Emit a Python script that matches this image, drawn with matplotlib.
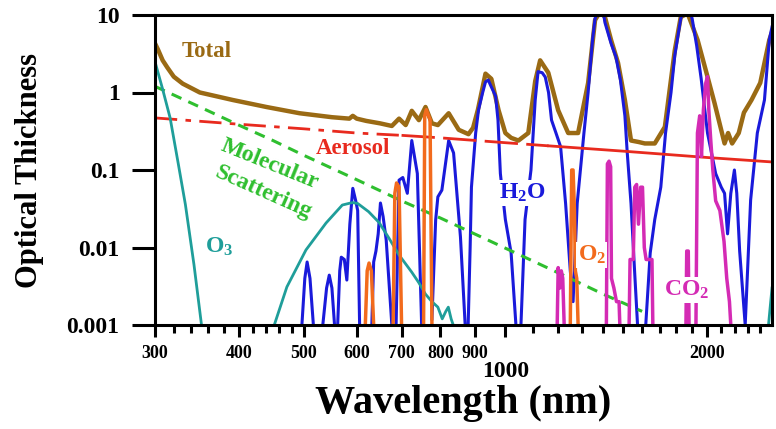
import numpy as np
import matplotlib.pyplot as plt

nan = np.nan

# optical thickness vs wavelength
total_wl = [300, 303, 308, 313, 320, 330, 350, 392, 440, 493, 551, 585, 592, 600, 620, 650,
            677, 694, 710, 725, 743, 760, 777, 793, 823, 852, 881, 895, 910, 934, 953, 977,
            1000, 1020, 1046, 1082, 1108, 1127, 1159, 1199, 1241, 1284, 1329, 1361, 1385, 1408,
            1438, 1473, 1508, 1540, 1580, 1615, 1671, 1730, 1790, 1827, 1871, 1936, 2003, 2052,
            2124, 2150, 2180, 2230, 2270, 2330, 2401, 2477, 2500]
total_tau = [4.3, 3.6, 2.6, 2.1, 1.6, 1.3, 1.0, 0.80, 0.65, 0.54, 0.48, 0.46, 0.50, 0.46, 0.43, 0.40,
             0.37, 0.46, 0.38, 0.58, 0.44, 0.65, 0.40, 0.38, 0.54, 0.33, 0.29, 0.35, 0.6, 1.75, 1.5, 0.59,
             0.30, 0.26, 0.24, 0.30, 1.4, 2.6, 1.8, 0.59, 0.30, 0.30, 1.33, 8.6, 11, 9.4,
             4.76, 2.4, 0.80, 0.24, 0.23, 0.22, 0.22, 0.36, 3.5, 9.4, 10.5, 4.76, 1.6, 0.73,
             0.22, 0.3, 0.22, 0.3, 0.55, 0.8, 1.33, 4.76, 6.0]

aer_wl = [300, 400, 500, 600, 700, 800, 1000, 1160, 1500, 2000, 2500]
aer_tau = [0.47, 0.39, 0.34, 0.30, 0.28, 0.26, 0.225, 0.205, 0.175, 0.145, 0.127]

mol_wl = [300, 350, 400, 450, 500, 600, 700, 800, 1000, 1200, 1400, 1600]
mol_tau = [1.2, 0.65, 0.38, 0.24, 0.155, 0.075, 0.040, 0.024, 0.0098, 0.0047, 0.0025, 0.0015]

o3_wl = [300, 308, 316, 325, 333, 343, 352, nan,
         452, 472, 504, 540, 571, 591, 602, 625, 648, 671, 694, 725, 743, 760, 777, 793, 805,
         815, 822, 830, 836, nan, 2470, 2500]
o3_tau = [2.5, 1.1, 0.47, 0.12, 0.036, 0.006, 0.001, nan,
          0.001, 0.0031, 0.0093, 0.0207, 0.0353, 0.038, 0.037, 0.029, 0.021, 0.013, 0.008, 0.0048,
          0.0035, 0.0025, 0.002, 0.0017, 0.0012, 0.0015, 0.0017, 0.0012, 0.001, nan, 0.001, 0.003]

h2o_wl = [497, 502, 506, 511, 517, nan,
          534, 541, 546, 551, 556, nan,
          562, 566, 569, 575, 580, 586, 592, 598, 602, 606, nan,
          632, 636, 641, 646, 651, 657, 664, 677, nan,
          687, 694, 703, 714, 725, 739, 750, nan,
          777, 787, 793, 804, 823, 837, 857, 871, nan,
          880, 886, 890, 903, 912, 925, 934, 943, 950, 967, 975, 983, 1000, 1020, 1037, nan,
          1055, 1070, 1092, 1108, 1119, 1135, 1147, 1160, 1172, 1190, 1209, 1230, 1250, 1262,
          1280, 1300, 1310, 1329, 1350, 1361, 1380, 1400, 1408, 1438, 1462, 1485, 1508, 1520,
          1540, 1559, 1575, nan,
          1620, 1645, 1671, 1706, 1734, 1767, 1790, 1827, 1850, 1880, 1900, 1930, 1960, 2003,
          2060, 2100, 2124, 2146, 2170, 2197, 2215, 2237, 2280, 2323, 2377, 2436, 2477, 2500]
h2o_tau = [0.001, 0.004, 0.0065, 0.004, 0.001, nan,
           0.001, 0.003, 0.0044, 0.003, 0.001, nan,
           0.001, 0.005, 0.0075, 0.007, 0.0038, 0.02, 0.058, 0.04, 0.03, 0.001, nan,
           0.001, 0.0065, 0.009, 0.015, 0.0375, 0.025, 0.0125, 0.001, nan,
           0.001, 0.074, 0.08, 0.05, 0.24, 0.09, 0.001, nan,
           0.0012, 0.0226, 0.045, 0.055, 0.24, 0.166, 0.0137, 0.001, nan,
           0.001, 0.01, 0.06, 0.3, 0.6, 1.0, 1.37, 1.45, 1.25, 0.9, 0.44, 0.09, 0.023, 0.0085, 0.001, nan,
           0.001, 0.023, 0.1, 0.8, 1.86, 1.8, 1.58, 1.0, 0.44, 0.3, 0.2, 0.037, 0.005, 0.002,
           0.037, 0.15, 0.3, 1.0, 5.0, 9.0, 12, 11, 8.0, 4.3, 2.9, 1.45, 0.5, 0.17,
           0.037, 0.005, 0.001, nan,
           0.001, 0.0085, 0.023, 0.06, 0.3, 1.0, 3.0, 9.0, 12, 12, 9.0, 4.0, 1.5, 0.3,
           0.09, 0.06, 0.05, 0.015, 0.05, 0.1, 0.05, 0.009, 0.001, 0.041, 0.3, 0.8, 4.8, 7.0]

o2_wl = [618, 622, 626, 631, 636, nan, 680, 684, 688, 694, 700, nan,
         755, 758, 762, 768, 772, 777, nan, 1250, 1256, 1262, 1268, 1272, 1278, 1284]
o2_tau = [0.001, 0.005, 0.0063, 0.005, 0.001, nan, 0.001, 0.05, 0.068, 0.06, 0.001, nan,
          0.001, 0.5, 0.6, 0.5, 0.45, 0.001, nan, 0.001, 0.1, 0.1, 0.03, 0.005, 0.004, 0.001]

co2_wl = [1195, 1199, 1206, 1212, 1218, 1224, nan,
          1415, 1420, 1428, 1436, 1440, 1452, 1465, 1478, 1482, nan,
          1530, 1535, 1552, 1560, 1570, 1580, 1592, 1602, 1612, 1622, 1640, 1655, 1660, nan,
          1860, 1865, 1875, 1880, nan,
          1925, 1935, 1950, 1962, 1975, 1990, 2003, 2012, 2025, 2040, 2060, 2090, 2120, 2140, 2160, 2170]
co2_tau = [0.001, 0.0055, 0.003, 0.005, 0.004, 0.001, nan,
           0.001, 0.12, 0.13, 0.11, 0.004, 0.003, 0.002, 0.002, 0.001, nan,
           0.001, 0.007, 0.007, 0.06, 0.065, 0.02, 0.06, 0.06, 0.01, 0.007, 0.007, 0.007, 0.001, nan,
           0.001, 0.009, 0.009, 0.001, nan,
           0.001, 0.3, 0.5, 0.15, 0.6, 1.3, 1.6, 0.6, 0.25, 0.1, 0.04, 0.03, 0.012, 0.004, 0.002, 0.001]

x_major = [300, 400, 500, 600, 700, 800, 900, 1000, 2000]
x_minor = [320, 340, 360, 380, 420, 440, 460, 480,
           1100, 1200, 1300, 1400, 1500, 1600, 1700, 1800, 1900, 2100, 2200, 2300, 2400]
y_major = [0.001, 0.01, 0.1, 1, 10]
y_labels = ['0.001', '0.01', '0.1', '1', '10']

plt.rcParams['font.family'] = 'Liberation Serif'
plt.rcParams['font.weight'] = 'bold'
plt.rcParams['mathtext.fontset'] = 'custom'
plt.rcParams['mathtext.rm'] = 'Liberation Serif:bold'
plt.rcParams['mathtext.it'] = 'Liberation Serif:bold'
plt.rcParams['mathtext.bf'] = 'Liberation Serif:bold'

fig = plt.figure(figsize=(7.76, 4.29), dpi=100)
ax = fig.add_axes([155 / 776, 1 - 325 / 429, 617 / 776, 310 / 429])

brown = '#9a6a14'
red = '#e82a1e'
green = '#2fbf2f'
teal = '#1f9e9a'
blue = '#1a1adb'
orange = '#f26b1d'
magenta = '#d42bb4'

ax.plot(total_wl, total_tau, color=brown, lw=3.2, zorder=2)
ax.plot(h2o_wl, h2o_tau, color=blue, lw=2.2, zorder=3)
ax.plot(aer_wl[:5], aer_tau[:5], color=red, lw=2.0, ls=(0, (8, 3, 2, 3)), zorder=4)
ax.plot(aer_wl[4:8], aer_tau[4:8], color=red, lw=2.0, ls=(0, (12, 3)), zorder=4)
ax.plot(aer_wl[7:], aer_tau[7:], color=red, lw=2.0, zorder=4)
ax.plot(mol_wl, mol_tau, color=green, lw=2.2, ls=(0, (3.5, 2.5)), zorder=4)
ax.plot(o3_wl, o3_tau, color=teal, lw=2.0, zorder=4)
ax.plot(o2_wl, o2_tau, color=orange, lw=2.5, zorder=5)
ax.plot(co2_wl, co2_tau, color=magenta, lw=2.5, zorder=5)

ax.set_xscale('log')
ax.set_yscale('log')
ax.set_xlim(300, 2500)
ax.set_ylim(0.001, 10)

ax.set_xticks(x_major)
ax.set_xticklabels([str(v) for v in x_major])
ax.set_xticks(x_minor, minor=True)
ax.set_xticklabels([], minor=True)
ax.set_yticks(y_major)
ax.set_yticklabels(y_labels)
ax.yaxis.set_minor_locator(plt.NullLocator())

ax.tick_params(axis='x', which='major', direction='out', length=8.6, width=2.2, pad=6, labelsize=13)
ax.tick_params(axis='x', which='minor', direction='out', length=6, width=2.2)
ax.tick_params(axis='y', which='major', direction='out', length=16.5, width=2.2, pad=9, labelsize=17)
for t in ax.xaxis.get_major_ticks():
    if t.get_loc() == 1000:
        t.tick1line.set_markersize(16)
        t.set_pad(17)
        t.label1.set_fontsize(17)

for s in ax.spines.values():
    s.set_linewidth(2.2)
    s.set_zorder(10)

fig.text(30 / 776, 1 - 171 / 429, 'Optical Thickness', rotation=90, ha='center', va='center', fontsize=22)
fig.text(463 / 776, 1 - 403 / 429, 'Wavelength (nm)', ha='center', va='center', fontsize=29)

box = dict(facecolor='white', edgecolor='none', pad=1)
ax.text(0.084, 0.881, 'Total', color=brown, fontsize=16.5, ha='center', va='center', transform=ax.transAxes)
ax.text(0.321, 0.568, 'Aerosol', color=red, fontsize=16.5, ha='center', va='center', transform=ax.transAxes)
ax.text(0.186, 0.519, 'Molecular', color=green, fontsize=17, ha='center', va='center',
        rotation=-22, transform=ax.transAxes)
ax.text(0.175, 0.426, 'Scattering', color=green, fontsize=17, ha='center', va='center',
        rotation=-24, transform=ax.transAxes)
ax.text(0.104, 0.252, r'O$_3$', color=teal, fontsize=17, ha='center', va='center', transform=ax.transAxes)
ax.text(0.595, 0.426, r'H$_2$O', color=blue, fontsize=17, ha='center', va='center',
        transform=ax.transAxes, bbox=box, zorder=6)
ax.text(0.708, 0.226, r'O$_2$', color=orange, fontsize=17, ha='center', va='center',
        transform=ax.transAxes, bbox=box, zorder=6)
ax.text(0.861, 0.113, r'CO$_2$', color=magenta, fontsize=17, ha='center', va='center',
        transform=ax.transAxes, bbox=box, zorder=6)

fig.savefig('out.png', dpi=100)
